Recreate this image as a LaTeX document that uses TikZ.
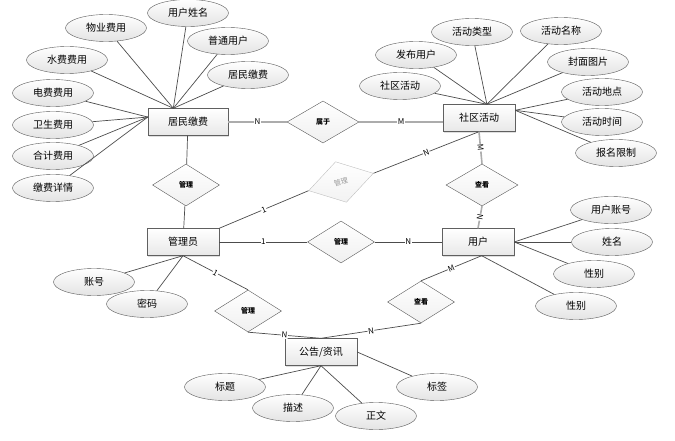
\documentclass[tikz,border=0pt]{standalone}
\usepackage{fontspec}
\setmainfont{Noto Sans CJK SC}
\usepackage{tikz}
\usetikzlibrary{shapes.geometric,shadows}

\begin{document}
\begin{tikzpicture}[x=1pt,y=-1pt,every node/.style={font=\fontsize{10}{12}\selectfont},
  entity/.style={draw=gray!75!black,top color=white,bottom color=gray!18,minimum width=72pt,minimum height=27pt,inner sep=0pt,drop shadow={opacity=0.25,shadow xshift=1.2pt,shadow yshift=-1.2pt}},
  attr/.style={ellipse,draw=gray!70!black,top color=white,bottom color=gray!22,minimum width=81pt,minimum height=27pt,inner sep=0pt},
  rel/.style={diamond,draw=gray!70!black,top color=white,bottom color=gray!12,minimum width=67pt,minimum height=42pt,inner sep=0pt,font=\fontsize{7}{8}\selectfont\bfseries},
  link/.style={draw=gray!60!black,line width=0.7pt},
  heavy/.style={draw=gray!65,line width=1.6pt},
  card/.style={font=\fontsize{8}{9}\selectfont,fill=white,inner sep=0.5pt,sloped}]
\useasboundingbox (0,0) rectangle (675,441);
\node[entity,minimum width=80pt] (jf) at (188,122) {居民缴费};
\node[entity] (sq) at (479,118) {社区活动};
\node[entity] (gly) at (183,242) {管理员};
\node[entity] (yh) at (478,242) {用户};
\node[entity] (gg) at (321,352) {公告/资讯};
\node[rel,minimum width=72pt] (sy) at (323,122) {属于};
\node[rel] (gl1) at (186,185) {管理};
\node[rel,draw=gray!50,top color=white,bottom color=gray!10,text=gray!80,font=\fontsize{7}{8}\selectfont,rotate=15] (gl2) at (341,182) {管理};
\node[rel] (gl3) at (341,242) {管理};
\node[rel,minimum width=72pt] (ck1) at (482,185) {查看};
\node[rel] (gl4) at (248,311) {管理};
\node[rel] (ck2) at (421,302) {查看};
\node[attr] (wy) at (106,28) {物业费用};
\node[attr] (xm) at (188,13) {用户姓名};
\node[attr] (pt) at (228,41) {普通用户};
\node[attr] (jfa) at (248,75) {居民缴费};
\node[attr] (sf) at (67,60) {水费费用};
\node[attr] (df) at (53,93) {电费费用};
\node[attr] (ws) at (53,125) {卫生费用};
\node[attr] (hj) at (53,156) {合计费用};
\node[attr] (xq) at (53,188) {缴费详情};
\node[attr] (lx) at (472,32) {活动类型};
\node[attr] (mc) at (561,31) {活动名称};
\node[attr] (fb) at (416,55) {发布用户};
\node[attr] (fm) at (588,62) {封面图片};
\node[attr] (sqa) at (400,86) {社区活动};
\node[attr] (dd) at (602,92) {活动地点};
\node[attr] (sj) at (602,122) {活动时间};
\node[attr] (bm) at (616,153) {报名限制};
\node[attr] (zh) at (611,210) {用户账号};
\node[attr] (xmb) at (612,242) {姓名};
\node[attr] (xb1) at (594,274) {性别};
\node[attr] (xb2) at (576,306) {性别};
\node[attr] (zhh) at (94,282) {账号};
\node[attr] (mm) at (147,304) {密码};
\node[attr] (bt) at (225,387) {标题};
\node[attr] (ms) at (293,408) {描述};
\node[attr] (zw) at (376,416) {正文};
\node[attr] (bq) at (437,387) {标签};
\foreach \a in {wy,xm,pt,jfa,sf} \draw[link] (\a) -- (jf.137);
\foreach \a in {df,ws,hj,xq} \draw[link] (\a) -- (jf.173);
\foreach \a in {lx,mc,fb,fm,sqa} \draw[link] (\a) -- (sq.60);
\foreach \a in {dd,sj,bm} \draw[link] (\a) -- (sq.12);
\foreach \a in {zh,xmb,xb1} \draw[link] (\a) -- (yh.east);
\draw[link] (xb2) -- (yh.-75);
\foreach \a in {zhh,mm} \draw[link] (\a) -- (gly.south);
\foreach \a in {bt,ms,zw} \draw[link] (\a) -- (gg.south);
\draw[link] (bq) -- (gg.east);
\draw[heavy] (jf) -- node[card]{N} (sy);
\draw[heavy] (sy.east) -- node[card]{M} (sy.east -| sq.west);
\draw[link] (jf) -- (gl1);
\draw[link] (gl1) -- (gly);
\draw[link] (gly.north east) -- node[card]{1} (gl2.west);
\draw[link] (gl2.east) -- node[card]{N} (sq.south);
\draw[link] (gly) -- node[card]{1} (gl3);
\draw[link] (gl3) -- node[card]{N} (yh);
\draw[heavy] (ck1.north) -- node[card]{M} (sq.south);
\draw[heavy] (yh.north) -- node[card]{N} (ck1.south);
\draw[link] (gly.south) -- node[card]{1} (gl4.north);
\draw[link] (gl4.south) -- node[card]{N} (gg.north);
\draw[link] (yh.-75) -- node[card]{M} (ck2.north);
\draw[link] (ck2.south) -- node[card]{N} (gg.north);
\end{tikzpicture}
\end{document}
